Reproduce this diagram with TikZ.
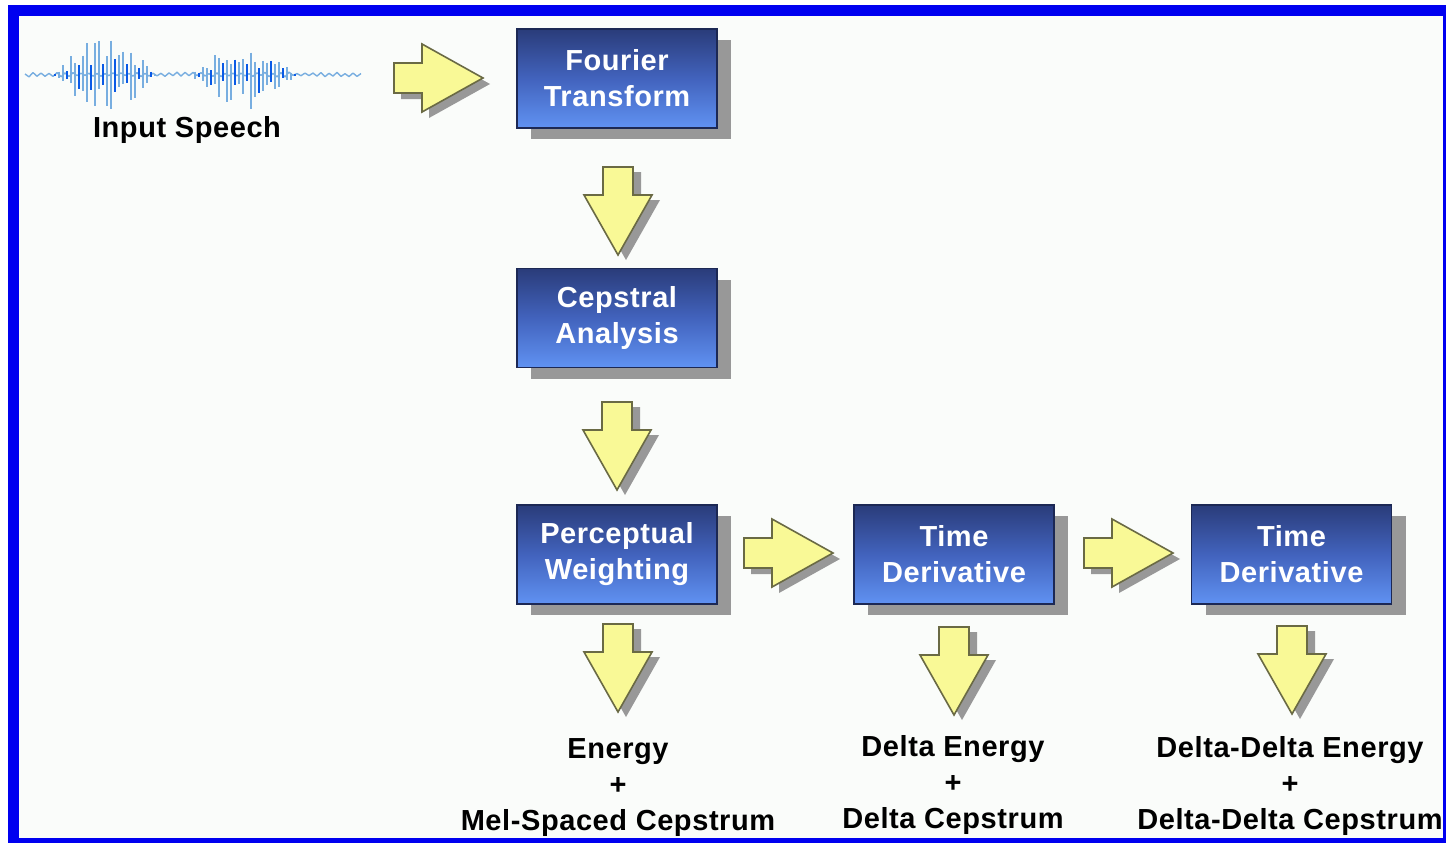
\documentclass[tikz,border=0pt]{standalone}
\usepackage{fontspec}
\setmainfont{Liberation Sans}[LetterSpace=2]
\usetikzlibrary{shadows}
\definecolor{frameblue}{HTML}{0000F0}
\definecolor{paper}{HTML}{FAFCFA}
\definecolor{boxtop}{HTML}{2A3C7A}
\definecolor{boxmid}{HTML}{4263BD}
\definecolor{boxbot}{HTML}{6092F2}
\definecolor{boxedge}{HTML}{1C2854}
\definecolor{arrowfill}{HTML}{F9F996}
\definecolor{arrowedge}{HTML}{6A6A44}
\definecolor{shadowgray}{HTML}{989898}
\definecolor{wavelight}{HTML}{78AEE0}
\definecolor{wavedark}{HTML}{0A5AE6}
\tikzset{
  x=1pt, y=-1pt,
  stagebox/.style={rectangle, minimum width=200pt, minimum height=99pt,
    draw=boxedge, line width=1.6pt,
    top color=boxtop, bottom color=boxbot, middle color=boxmid,
    text=white, align=center, inner sep=0pt,
    font=\bfseries\fontsize{29}{36}\selectfont,
    drop shadow={shadow xshift=14pt, shadow yshift=-11pt, fill=shadowgray, opacity=1}},
  label text/.style={align=center, text=black, inner sep=0pt,
    font=\bfseries\fontsize{29}{36}\selectfont},
  arrowbody/.style={fill=arrowfill, draw=arrowedge, line width=1.6pt, line join=miter},
  arrowshadow/.style={fill=shadowgray},
  rarrow/.pic={
    \fill[arrowshadow, shift={(7,6)}] (0,-15) -- (28,-15) -- (28,-34) -- (89,0) -- (28,34) -- (28,15) -- (0,15) -- cycle;
    \draw[arrowbody] (0,-15) -- (28,-15) -- (28,-34) -- (89,0) -- (28,34) -- (28,15) -- (0,15) -- cycle;
  },
  darrow/.pic={
    \fill[arrowshadow, shift={(8,5)}] (-15,0) -- (15,0) -- (15,28) -- (34,28) -- (0,88) -- (-34,28) -- (-15,28) -- cycle;
    \draw[arrowbody] (-15,0) -- (15,0) -- (15,28) -- (34,28) -- (0,88) -- (-34,28) -- (-15,28) -- cycle;
  }
}
\begin{document}
\begin{tikzpicture}
% page and blue frame
\useasboundingbox (0,0) rectangle (1446,843);
\fill[white] (0,0) rectangle (1446,843);
\fill[frameblue] (8,5) rectangle (1446,843);
\fill[paper] (19,16) rectangle (1443,838);

% speech waveform: quiet baseline with two bursts of spikes
\pgfmathsetseed{11}
\draw[wavelight, line width=1.4pt, line join=round]
  (25,74) \foreach \i in {1,...,84}{
    -- ({25+4*\i}, {74.5 + (2*mod(\i,2)-1)*(0.8+1.6*rnd)})
  };
\pgfmathsetseed{7}
\foreach \i in {0,...,84}{
  \pgfmathsetmacro{\sx}{27+4*\i}
  \pgfmathsetmacro{\env}{36*max(0,1-((\sx-104)/52)^2) + 35*max(0,1-((\sx-244)/52)^2)}
  \pgfmathsetmacro{\up}{\env*(0.3+0.7*rnd)}
  \pgfmathsetmacro{\dn}{\env*(0.25+0.75*rnd)}
  \pgfmathtruncatemacro{\pick}{mod(\i,3)}
  \ifnum\pick=1
    \draw[wavedark, line width=1.8pt] (\sx,{75-0.6*\up}) -- (\sx,{75+0.6*\dn});
  \else
    \draw[wavelight, line width=2.2pt] (\sx,{75-\up}) -- (\sx,{75+\dn});
  \fi
}
\node[label text] (speech) at (187,130) {Input Speech};

% processing stages
\node[stagebox] (ft) at (617,78.5) {Fourier\\Transform};
\node[stagebox] (ca) at (617,318) {Cepstral\\Analysis};
\node[stagebox] (pw) at (617,554.5) {Perceptual\\Weighting};
\node[stagebox] (td1) at (954,554.5) {Time\\Derivative};
\node[stagebox] (td2) at (1291.5,554.5) {Time\\Derivative};

% block arrows between stages
\pic at (394,78) {rarrow};
\pic at (618,167) {darrow};
\pic at (617,402) {darrow};
\pic at (744,553) {rarrow};
\pic at (1084,553) {rarrow};
\pic at (618,624) {darrow};
\pic at (954,627) {darrow};
\pic at (1292,626) {darrow};

% resulting features
\node[label text] (out1) at (618,788) {Energy\\+\\Mel-Spaced Cepstrum};
\node[label text] (out2) at (953,785) {Delta Energy\\+\\Delta Cepstrum};
\node[label text] (out3) at (1290,786) {Delta-Delta Energy\\+\\Delta-Delta Cepstrum};
\end{tikzpicture}
\end{document}
